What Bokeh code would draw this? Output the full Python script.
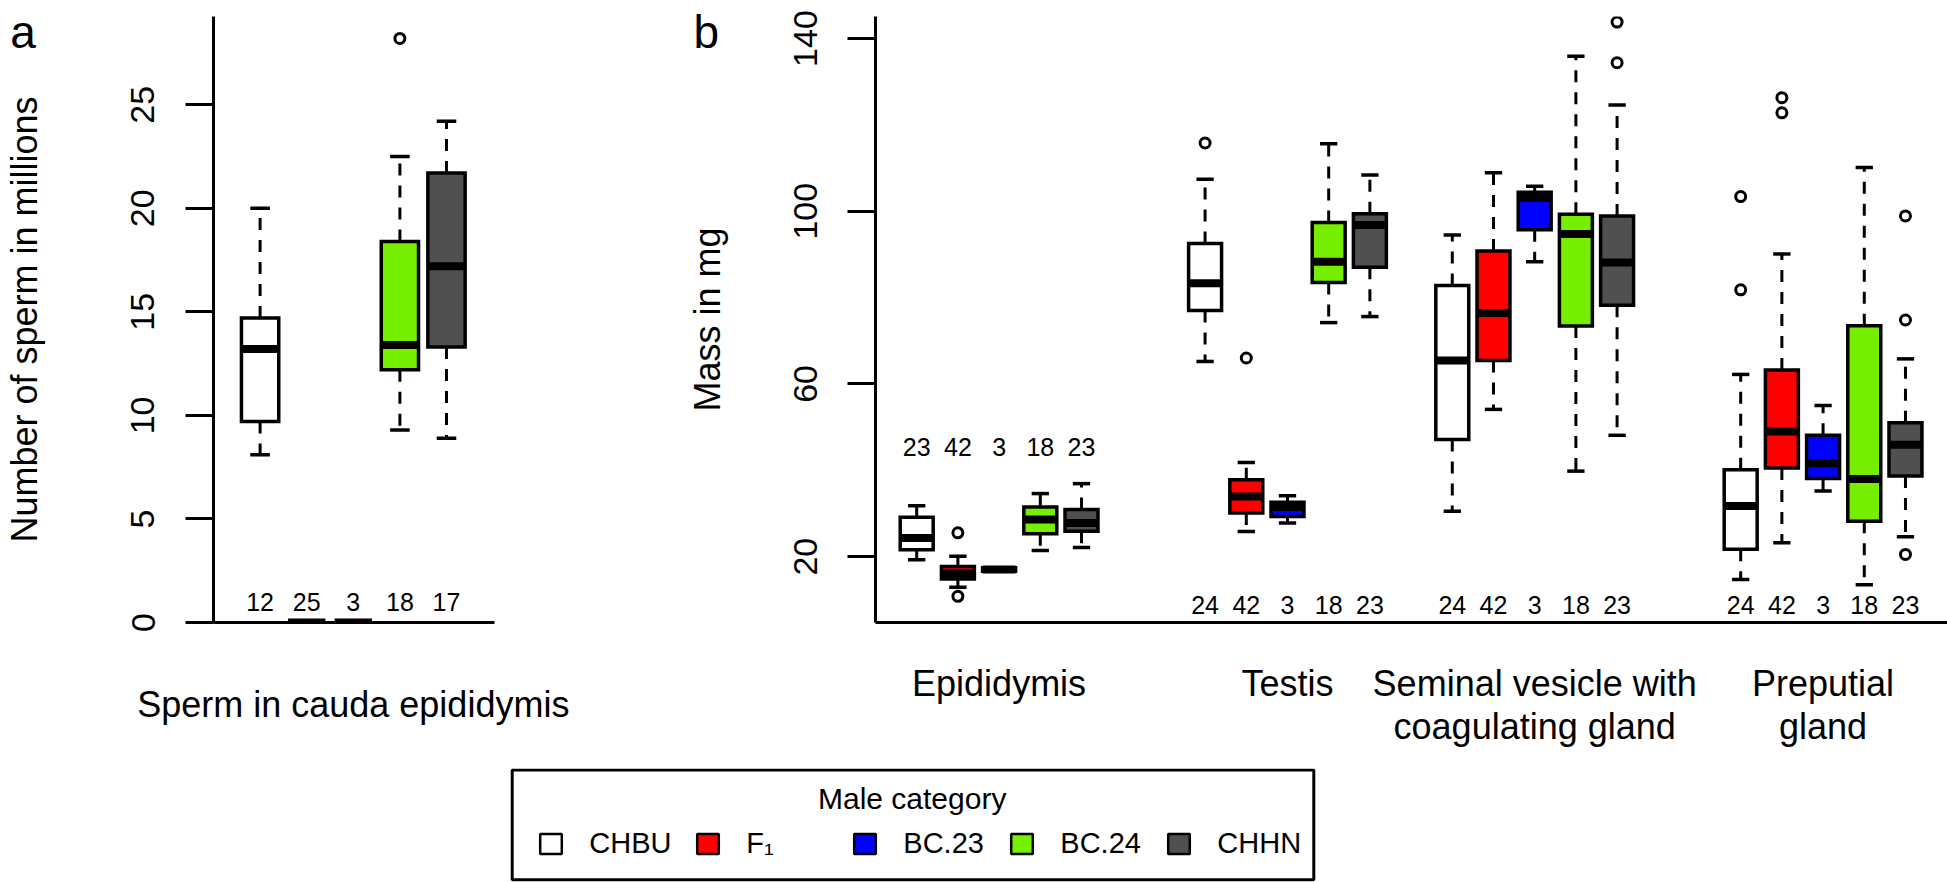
from bokeh.plotting import figure
from bokeh.models import (BoxAnnotation, ColumnDataSource, FixedTicker, Label, Legend,
                          LegendItem, Range1d)
from bokeh.layouts import column, row
from bokeh.embed import file_html
from bokeh.resources import INLINE
from bokeh.core.properties import value

FONT = "Liberation Sans"

# ---------------- data ----------------
categories = ["CHBU", "F₁", "BC.23", "BC.24", "CHHN"]
category_colors = ["#FFFFFF", "#FF0000", "#0000FF", "#76EE00", "#505050"]
legend_title = "Male category"

# panel a : sperm in cauda epididymis (millions)
sperm_label = "Sperm in cauda epididymis"
sperm_low = [8.1, 0.0, 0.0, 9.3, 8.9]
sperm_q1 = [9.7, 0.0, 0.0, 12.2, 13.3]
sperm_med = [13.2, 0.0, 0.0, 13.4, 17.2]
sperm_q3 = [14.7, 0.0, 0.0, 18.4, 21.7]
sperm_high = [20.0, 0.0, 0.0, 22.5, 24.2]
sperm_out = [[], [], [], [28.2], []]
sperm_n = [12, 25, 3, 18, 17]
sperm_ticks = [0, 5, 10, 15, 20, 25]

# panel b : organ masses (mg)
organs = ["Epididymis", "Testis", "Seminal vesicle with\ncoagulating gland", "Preputial\ngland"]
mass_ticks = [20, 60, 100, 140]

epi_low = [19.3, 12.9, 16.6, 21.4, 22.1]
epi_q1 = [21.6, 14.8, 16.6, 25.3, 25.9]
epi_med = [24.3, 16.1, 17.0, 28.6, 27.8]
epi_q3 = [29.1, 17.7, 17.4, 31.5, 30.9]
epi_high = [31.8, 20.1, 17.4, 34.6, 36.9]
epi_out = [[], [25.5, 10.8], [], [], []]
epi_n = [23, 42, 3, 18, 23]

tes_low = [65.2, 25.8, 27.8, 74.2, 75.6]
tes_q1 = [77.0, 30.1, 29.3, 83.5, 87.0]
tes_med = [83.3, 33.9, 31.5, 88.3, 96.8]
tes_q3 = [92.5, 37.8, 32.6, 97.4, 99.4]
tes_high = [107.4, 41.8, 34.1, 115.6, 108.4]
tes_out = [[115.8], [66.0], [], [], []]
tes_n = [24, 42, 3, 18, 23]

sem_low = [30.5, 54.1, 88.3, 39.8, 48.1]
sem_q1 = [47.1, 65.4, 95.7, 73.4, 78.2]
sem_med = [65.4, 76.4, 103.1, 94.7, 88.1]
sem_q3 = [82.8, 90.8, 104.4, 99.3, 98.9]
sem_high = [94.5, 108.9, 105.8, 135.9, 124.6]
sem_out = [[], [], [], [], [134.4, 143.8]]
sem_n = [24, 42, 3, 18, 23]

pre_low = [14.7, 23.2, 35.2, 13.5, 24.6]
pre_q1 = [21.7, 40.5, 38.1, 28.2, 38.7]
pre_med = [31.7, 49.0, 41.6, 38.0, 45.9]
pre_q3 = [40.1, 63.2, 48.1, 73.5, 51.0]
pre_high = [62.2, 90.1, 55.0, 110.1, 65.8]
pre_out = [[81.8, 103.4], [122.8, 126.3], [], [], [98.9, 74.8, 20.5]]
pre_n = [24, 42, 3, 18, 23]

# ---------------- layout constants ----------------
GROUP_START_B = [1, 8, 14, 21]   # x position of the first box of each organ group
N_LABEL_Y_B = [45.5, 8.7, 8.7, 8.7]
N_LABEL_Y_A = 1.0


def draw_boxes(p, xs, low, q1, med, q3, high, outs, n, n_y):
    src = ColumnDataSource(dict(
        x=xs, low=low, q1=q1, med=med, q3=q3, high=high, color=category_colors,
        xl=[x - 0.4 for x in xs], xr=[x + 0.4 for x in xs],
        cl=[x - 0.21 for x in xs], cr=[x + 0.21 for x in xs],
        n=[str(v) for v in n], ny=n_y,
    ))
    p.segment(x0="x", y0="q3", x1="x", y1="high", source=src, line_color="black",
              line_width=3, line_dash="12 10")
    p.segment(x0="x", y0="q1", x1="x", y1="low", source=src, line_color="black",
              line_width=3, line_dash="12 10")
    p.segment(x0="cl", y0="high", x1="cr", y1="high", source=src, line_color="black", line_width=3.5)
    p.segment(x0="cl", y0="low", x1="cr", y1="low", source=src, line_color="black", line_width=3.5)
    p.vbar(x="x", width=0.8, bottom="q1", top="q3", source=src, fill_color="color",
           line_color="black", line_width=3.5, line_join="miter")
    p.segment(x0="xl", y0="med", x1="xr", y1="med", source=src, line_color="black",
              line_width=8, line_cap="butt")
    ox, oy = [], []
    for x, o in zip(xs, outs):
        ox += [x] * len(o)
        oy += list(o)
    p.scatter(ox, oy, marker="circle", size=10, fill_color=None, line_color="black", line_width=3)
    p.text(x="x", y="ny", text="n", source=src, text_align="center", text_baseline="middle",
           text_font=value(FONT), text_font_size="25px", text_color="black")


def style(p, yticks, ylabel, tick_standoff, label_standoff, x_standoff):
    p.grid.grid_line_color = None
    p.outline_line_color = None
    p.background_fill_color = "white"
    p.border_fill_color = "white"
    ya = p.yaxis[0]
    ya.ticker = FixedTicker(ticks=yticks)
    ya.axis_line_width = 3
    ya.major_tick_line_width = 3
    ya.major_tick_out = 28
    ya.major_tick_in = 0
    ya.minor_tick_line_color = None
    ya.major_label_orientation = "vertical"
    ya.major_label_text_font = FONT
    ya.major_label_text_font_size = "34px"
    ya.major_label_text_color = "black"
    ya.major_label_standoff = tick_standoff
    ya.axis_label = ylabel
    ya.axis_label_text_font = FONT
    ya.axis_label_text_font_size = "36px"
    ya.axis_label_text_font_style = "normal"
    ya.axis_label_text_color = "black"
    ya.axis_label_standoff = label_standoff
    xa = p.xaxis[0]
    xa.axis_line_width = 3
    xa.major_tick_line_color = None
    xa.minor_tick_line_color = None
    xa.major_label_text_font = FONT
    xa.major_label_text_font_size = "36px"
    xa.major_label_text_color = "black"
    xa.major_label_text_line_height = 1.05
    xa.major_label_standoff = x_standoff


def panel_letter(text, x, y):
    return Label(x=x, y=y, x_units="data", y_units="data", text=text, text_font=FONT,
                 text_font_size="46px", text_color="black", text_baseline="alphabetic")


# ---------------- panel a ----------------
fig_a = figure(width=608, height=768, x_range=Range1d(0, 6.03), y_range=Range1d(0, 29.26),
               output_backend="svg", toolbar_location=None,
               min_border_left=208, min_border_right=114, min_border_top=16, min_border_bottom=146)
xs_a = [1, 2, 3, 4, 5]
draw_boxes(fig_a, xs_a, sperm_low, sperm_q1, sperm_med, sperm_q3, sperm_high, sperm_out,
           sperm_n, [N_LABEL_Y_A] * 5)
style(fig_a, sperm_ticks, "Number of sperm in millions", 31, 84, 55)
fig_a.xaxis[0].ticker = FixedTicker(ticks=[3])
fig_a.xaxis[0].major_label_overrides = {3: sperm_label}
# side-panel placement keeps the letter from being clipped to the plot frame
fig_a.add_layout(panel_letter("a", -4.36, 28.52), "right")

# ---------------- panel b ----------------
fig_b = figure(width=1339, height=768, x_range=Range1d(0, 26.02), y_range=Range1d(4.74, 145.1),
               output_backend="svg", toolbar_location=None,
               min_border_left=267, min_border_right=0, min_border_top=16, min_border_bottom=146)
groups = [
    (epi_low, epi_q1, epi_med, epi_q3, epi_high, epi_out, epi_n),
    (tes_low, tes_q1, tes_med, tes_q3, tes_high, tes_out, tes_n),
    (sem_low, sem_q1, sem_med, sem_q3, sem_high, sem_out, sem_n),
    (pre_low, pre_q1, pre_med, pre_q3, pre_high, pre_out, pre_n),
]
centers = []
for g, (start, ny) in enumerate(zip(GROUP_START_B, N_LABEL_Y_B)):
    xs = [start + i for i in range(5)]
    centers.append(start + 2)
    lo, a1, md, a3, hi, out, n = groups[g]
    draw_boxes(fig_b, xs, lo, a1, md, a3, hi, out, n, [ny] * 5)
style(fig_b, mass_ticks, "Mass in mg", 30, 64, 34)
fig_b.xaxis[0].ticker = FixedTicker(ticks=centers)
fig_b.xaxis[0].major_label_overrides = {c: o for c, o in zip(centers, organs)}
fig_b.add_layout(panel_letter("b", -4.42, 141.5), "left")

# ---------------- legend ----------------
fig_l = figure(width=1947, height=114, x_range=Range1d(0, 1947), y_range=Range1d(0, 114),
               output_backend="svg", toolbar_location=None, min_border=0,
               x_axis_location=None, y_axis_location=None)
fig_l.grid.grid_line_color = None
fig_l.outline_line_color = None
fig_l.add_layout(BoxAnnotation(left=511.7, right=1313.3, bottom=2.7, top=112.5,
                               fill_alpha=0, line_color="black", line_alpha=1, line_width=3))
fig_l.add_layout(Label(x=911.7, y=84.5, text=legend_title, text_font=FONT, text_font_size="30px",
                       text_color="black", text_align="center", text_baseline="middle"))
items = []
for cat, col in zip(categories, category_colors):
    r = fig_l.quad(left=[-20], right=[-10], top=[-10], bottom=[-20], fill_color=col,
                   line_color="black", line_width=2.5)
    items.append(LegendItem(label=cat, renderers=[r]))
legend = Legend(items=items, orientation="horizontal", location=(537.3, 21.5),
                label_text_font=FONT, label_text_font_size="29px", label_text_color="black",
                label_standoff=25, label_width=105, label_height=34,
                glyph_width=27, glyph_height=25, spacing=0, padding=0, margin=0,
                border_line_color=None, background_fill_alpha=0)
fig_l.add_layout(legend)

layout = column(row(fig_a, fig_b), fig_l)
open("out.html", "w").write(file_html(layout, INLINE))
